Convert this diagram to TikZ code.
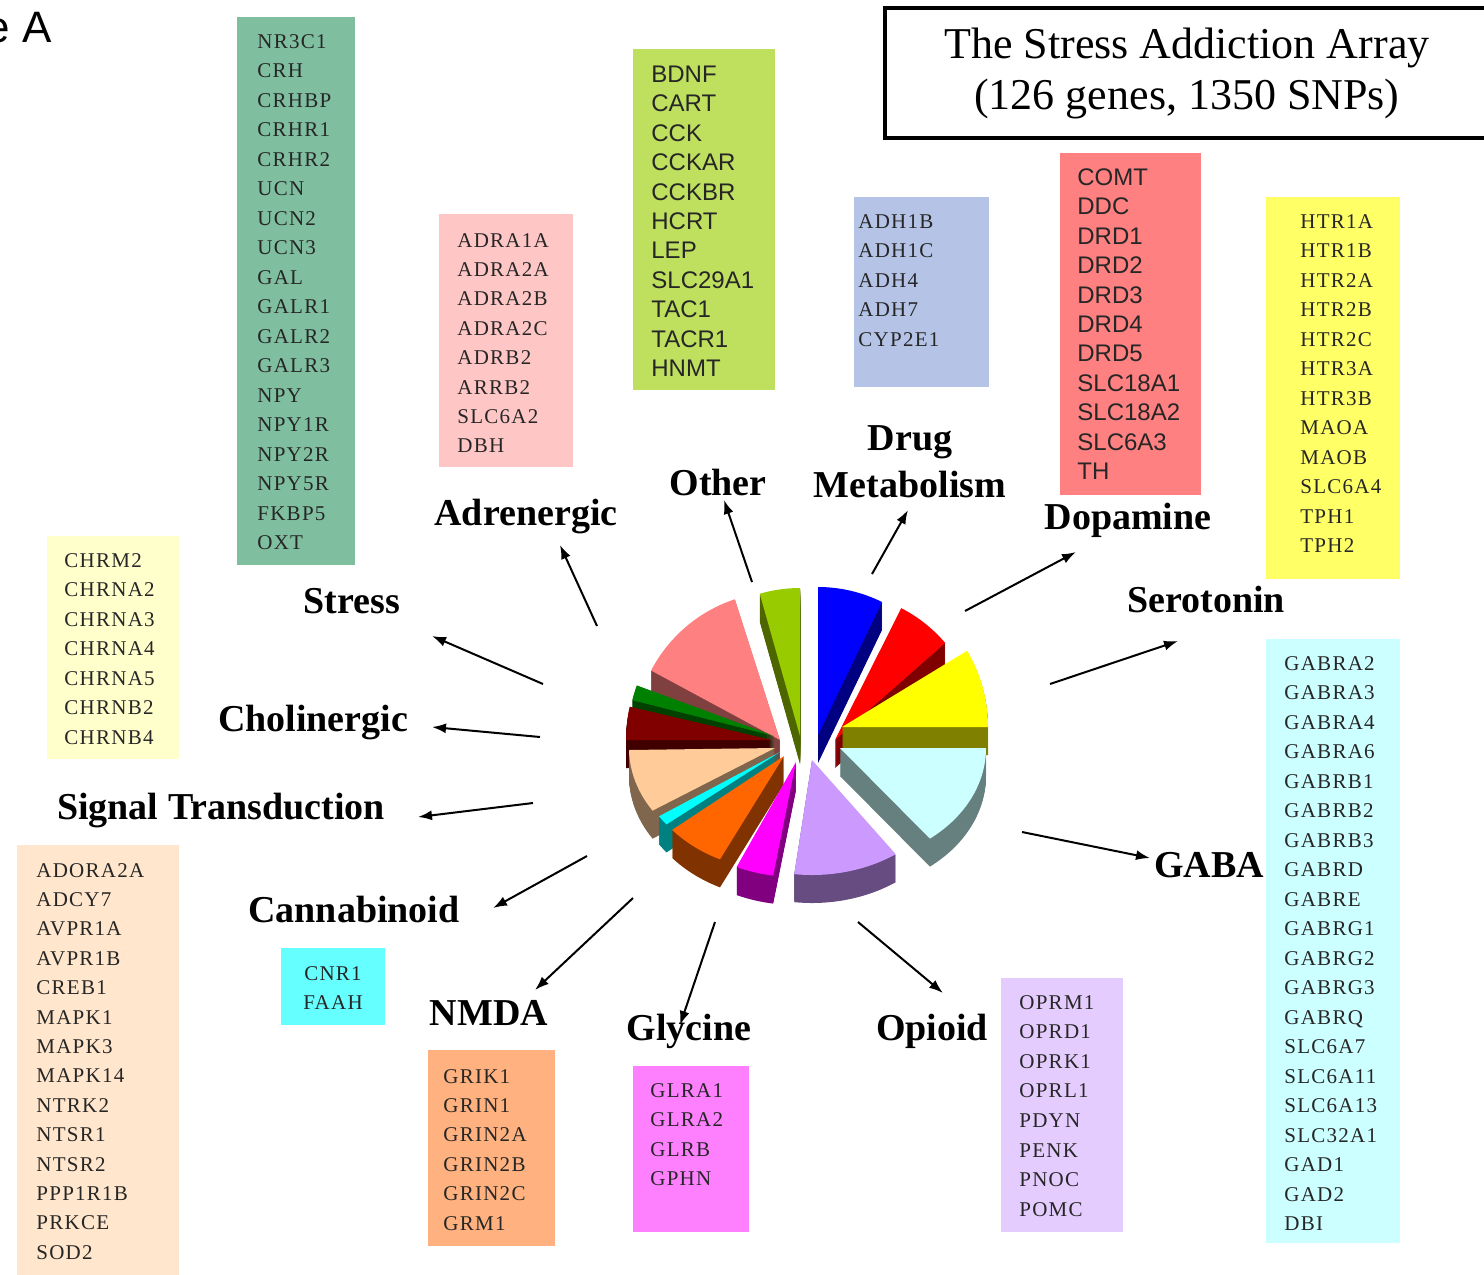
\documentclass[tikz,border=0pt]{standalone}
\usepackage{fontspec}
\setmainfont{Liberation Serif}
\newfontfamily\genefont[LetterSpace=6]{Liberation Serif}
\newfontfamily\genesansfont{Liberation Sans}
\newfontfamily\figfont{Liberation Sans}
\usepackage{tikz}
\usetikzlibrary{arrows.meta}

% box fills
\definecolor{stressfill}{HTML}{7FBF9F}
\definecolor{adrenfill}{HTML}{FFC6C6}
\definecolor{otherfill}{HTML}{BFDF5F}
\definecolor{drugfill}{HTML}{B4C3E6}
\definecolor{dopafill}{HTML}{FF8080}
\definecolor{serofill}{HTML}{FFFF66}
\definecolor{gabafill}{HTML}{CCFFFF}
\definecolor{opioidfill}{HTML}{E5CCFF}
\definecolor{glyfill}{HTML}{FF80FF}
\definecolor{nmdafill}{HTML}{FFB27F}
\definecolor{cannafill}{HTML}{66FFFF}
\definecolor{signalfill}{HTML}{FFE6CC}
\definecolor{cholfill}{HTML}{FFFFCC}
% pie tops and walls
\definecolor{otherpie}{HTML}{99CC00}  \definecolor{otherwall}{HTML}{4D6600}
\definecolor{drugpie}{HTML}{0000FF}   \definecolor{drugwall}{HTML}{000080}
\definecolor{stresspie}{HTML}{FF8080} \definecolor{stresswall}{HTML}{804040}
\definecolor{dopapie}{HTML}{FF0000}   \definecolor{dopawall}{HTML}{800000}
\definecolor{adrenpie}{HTML}{008000}  \definecolor{adrenwall}{HTML}{004000}
\definecolor{cholpie}{HTML}{800000}   \definecolor{cholwall}{HTML}{400000}
\definecolor{seropie}{HTML}{FFFF00}   \definecolor{serowall}{HTML}{808000}
\definecolor{signalpie}{HTML}{FFCC99} \definecolor{signalwall}{HTML}{80664C}
\definecolor{gabapie}{HTML}{CCFFFF}   \definecolor{gabawall}{HTML}{668080}
\definecolor{cannapie}{HTML}{00FFFF}  \definecolor{cannawall}{HTML}{008080}
\definecolor{nmdapie}{HTML}{FF6600}   \definecolor{nmdawall}{HTML}{803300}
\definecolor{glypie}{HTML}{FF00FF}    \definecolor{glywall}{HTML}{800080}
\definecolor{opioidpie}{HTML}{CC99FF} \definecolor{opioidwall}{HTML}{664C80}

\begin{document}
\begin{tikzpicture}[x=0.5pt, y=-0.5pt,
    genebox/.style={rectangle, inner sep=0pt, outer sep=0pt, anchor=north west},
    gene/.style={font=\genefont\fontsize{10.5}{12}\selectfont, text=black!85, inner sep=0pt, anchor=base west},
    genesans/.style={font=\genesansfont\fontsize{12}{14}\selectfont, text=black!85, inner sep=0pt, anchor=base west},
    group/.style={font=\bfseries\fontsize{19}{23.5}\selectfont, inner sep=0pt, anchor=base, align=center},
    link/.style={line width=1pt, -{Latex[length=7pt, width=5pt]}},
    titlebox/.style={rectangle, draw=black, line width=2pt, align=center, font=\fontsize{22}{25.5}\selectfont}]
    \useasboundingbox (0,0) rectangle (1484,1275);

    \node[font=\figfont\fontsize{22}{24}\selectfont, anchor=base east, inner sep=0pt] (figlabel) at (52,42) {e A};
    \node[titlebox, minimum width=302.5pt, minimum height=65pt] (title) at (1187,73) {The Stress Addiction Array\\(126 genes, 1350 SNPs)};

    % Gene boxes
    \node[genebox, fill=stressfill, minimum width=59pt, minimum height=274pt] (stressbox) at (237,17) {};
    \node[genebox, fill=adrenfill, minimum width=67pt, minimum height=126.5pt] (adrenbox) at (439,214) {};
    \node[genebox, fill=otherfill, minimum width=71pt, minimum height=170.5pt] (otherbox) at (633,49) {};
    \node[genebox, fill=drugfill, minimum width=67.5pt, minimum height=95pt] (drugbox) at (854,197) {};
    \node[genebox, fill=dopafill, minimum width=70.5pt, minimum height=171pt] (dopabox) at (1060,153) {};
    \node[genebox, fill=serofill, minimum width=67pt, minimum height=191pt] (serobox) at (1266,197) {};
    \node[genebox, fill=gabafill, minimum width=67pt, minimum height=302pt] (gababox) at (1266,639) {};
    \node[genebox, fill=opioidfill, minimum width=61pt, minimum height=127pt] (opioidbox) at (1001,978) {};
    \node[genebox, fill=glyfill, minimum width=58pt, minimum height=83pt] (glybox) at (633,1066) {};
    \node[genebox, fill=nmdafill, minimum width=63.5pt, minimum height=98pt] (nmdabox) at (428,1050) {};
    \node[genebox, fill=cannafill, minimum width=52pt, minimum height=38.5pt] (cannabox) at (281,948) {};
    \node[genebox, fill=signalfill, minimum width=81pt, minimum height=215pt] (signalbox) at (17,845) {};
    \node[genebox, fill=cholfill, minimum width=66pt, minimum height=111.5pt] (cholbox) at (47,536) {};

    % Gene names
    \foreach \g [count=\i] in {NR3C1,CRH,CRHBP,CRHR1,CRHR2,UCN,UCN2,UCN3,GAL,GALR1,GALR2,GALR3,NPY,NPY1R,NPY2R,NPY5R,FKBP5,OXT}
        \node[gene] (stress-\i) at (257,{48+29.5*(\i-1)}) {\g};
    \foreach \g [count=\i] in {ADRA1A,ADRA2A,ADRA2B,ADRA2C,ADRB2,ARRB2,SLC6A2,DBH}
        \node[gene] (adren-\i) at (457,{247+29.4*(\i-1)}) {\g};
    \foreach \g [count=\i] in {BDNF,CART,CCK,CCKAR,CCKBR,HCRT,LEP,SLC29A1,TAC1,TACR1,HNMT}
        \node[genesans] (other-\i) at (651,{82.5+29.4*(\i-1)}) {\g};
    \foreach \g [count=\i] in {ADH1B,ADH1C,ADH4,ADH7,CYP2E1}
        \node[gene] (drug-\i) at (858,{228+29.5*(\i-1)}) {\g};
    \foreach \g [count=\i] in {COMT,DDC,DRD1,DRD2,DRD3,DRD4,DRD5,SLC18A1,SLC18A2,SLC6A3,TH}
        \node[genesans] (dopa-\i) at (1077,{185.5+29.4*(\i-1)}) {\g};
    \foreach \g [count=\i] in {HTR1A,HTR1B,HTR2A,HTR2B,HTR2C,HTR3A,HTR3B,MAOA,MAOB,SLC6A4,TPH1,TPH2}
        \node[gene] (sero-\i) at (1300,{228+29.5*(\i-1)}) {\g};
    \foreach \g [count=\i] in {GABRA2,GABRA3,GABRA4,GABRA6,GABRB1,GABRB2,GABRB3,GABRD,GABRE,GABRG1,GABRG2,GABRG3,GABRQ,SLC6A7,SLC6A11,SLC6A13,SLC32A1,GAD1,GAD2,DBI}
        \node[gene] (gaba-\i) at (1284,{670+29.5*(\i-1)}) {\g};
    \foreach \g [count=\i] in {OPRM1,OPRD1,OPRK1,OPRL1,PDYN,PENK,PNOC,POMC}
        \node[gene] (opioid-\i) at (1019,{1009+29.6*(\i-1)}) {\g};
    \foreach \g [count=\i] in {GLRA1,GLRA2,GLRB,GPHN}
        \node[gene] (gly-\i) at (650,{1097+29.6*(\i-1)}) {\g};
    \foreach \g [count=\i] in {GRIK1,GRIN1,GRIN2A,GRIN2B,GRIN2C,GRM1}
        \node[gene] (nmda-\i) at (443,{1083+29.4*(\i-1)}) {\g};
    \foreach \g [count=\i] in {CNR1,FAAH}
        \node[gene, anchor=base] (canna-\i) at (333,{980+29*(\i-1)}) {\g};
    \foreach \g [count=\i] in {ADORA2A,ADCY7,AVPR1A,AVPR1B,CREB1,MAPK1,MAPK3,MAPK14,NTRK2,NTSR1,NTSR2,PPP1R1B,PRKCE,SOD2}
        \node[gene] (signal-\i) at (36,{877+29.4*(\i-1)}) {\g};
    \foreach \g [count=\i] in {CHRM2,CHRNA2,CHRNA3,CHRNA4,CHRNA5,CHRNB2,CHRNB4}
        \node[gene] (chol-\i) at (64,{567+29.5*(\i-1)}) {\g};

    % Group labels
    \node[group] (stress) at (352,613) {Stress};
    \node[group] (adren) at (526,525) {Adrenergic};
    \node[group] (other) at (718,495) {Other};
    \node[group, anchor=center] (drug) at (910,462) {Drug\\Metabolism};
    \node[group] (dopa) at (1128,529) {Dopamine};
    \node[group] (sero) at (1206,612) {Serotonin};
    \node[group] (gaba) at (1209,877) {GABA};
    \node[group] (opioid) at (932,1040) {Opioid};
    \node[group] (gly) at (689,1040) {Glycine};
    \node[group] (nmda) at (489,1025) {NMDA};
    \node[group] (canna) at (354,922) {Cannabinoid};
    \node[group] (signal) at (221,819) {Signal Transduction};
    \node[group] (chol) at (313,731) {Cholinergic};

    % Arrows from the pie out to the labels
    \foreach \n/\fx/\fy/\tx/\ty in {stress/543/684/432/636, adren/597/626/560/545, other/752/582/724/500,
            drug/872/574/908/510, dopa/965/611/1076/552, sero/1050/684/1178/641, gaba/1022/832/1150/858,
            opioid/858/922/943/993, gly/715/922/680/1025, nmda/633/898/535/990, canna/587/856/493/908,
            signal/533/803/418/817, chol/540/737/432/727} {
        \coordinate (\n-from) at (\fx,\fy);
        \coordinate (\n-to) at (\tx,\ty);
        \draw[link] (\n-from) -- (\n-to);
    }

    % Exploded 3D pie: apex x/y, start/end angle, y radius, top colour, wall colour
    \def\piedepth{28}
    \foreach \ax/\ay/\sa/\ea/\ry/\topc/\wallc in {
            800/736/254/270/148/otherpie/otherwall,
            818/735/270/296/148/drugpie/drugwall,
            780/740/208/252/148/stresspie/stresswall,
            835/740/297/319/148/dopapie/dopawall,
            774/736/194/200/148/adrenpie/adrenwall,
            772/740/180/193/148/cholpie/cholwall,
            842/727/329/360/148/seropie/serowall,
            775/748/147/179/115/signalpie/signalwall,
            840/748/0/52/115/gabapie/gabawall,
            780/752/141/146/115/cannapie/cannawall,
            784/756/116/140/115/nmdapie/nmdawall,
            796/762/99/114/115/glypie/glywall,
            812/760/55/97/115/opioidpie/opioidwall} {
        \foreach \dd in {\piedepth,...,1}
            \fill[\wallc] (\ax,\ay+\dd) -- ++(\sa:146 and \ry) arc[start angle=\sa, end angle=\ea, x radius=146, y radius=\ry] -- cycle;
        \fill[\topc] (\ax,\ay) -- ++(\sa:146 and \ry) arc[start angle=\sa, end angle=\ea, x radius=146, y radius=\ry] -- cycle;
    }
\end{tikzpicture}
\end{document}
